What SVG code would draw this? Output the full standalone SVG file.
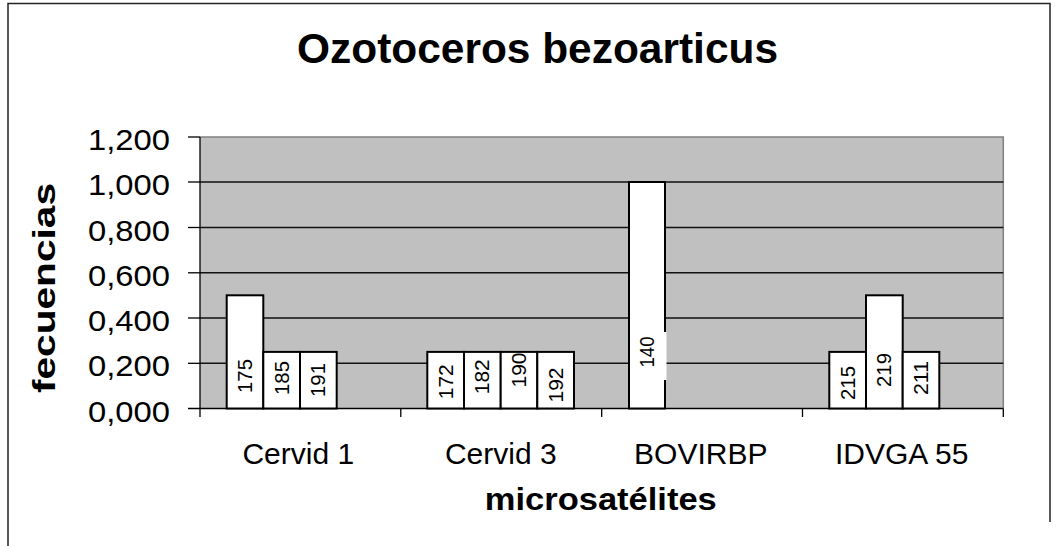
<svg xmlns="http://www.w3.org/2000/svg" width="1061" height="546" viewBox="0 0 1061 546">
  <style>
    .frame { fill: none; stroke: #222; stroke-width: 1.5; }
    .plot { fill: #c0c0c0; }
    .plotedge { fill: none; stroke: #808080; stroke-width: 1.5; }
    .grid { stroke: #111; stroke-width: 1.5; }
    .axis { stroke: #000; stroke-width: 1.3; fill: none; }
    .bar { fill: #fff; stroke: #000; stroke-width: 2; }
    .lblbg { fill: #fff; }
    .lbl { font-family: "Liberation Sans", Arial, sans-serif; font-size: 19.5px; fill: #000; text-anchor: middle; }
    .tick { font-family: "Liberation Sans", Arial, sans-serif; font-size: 30px; fill: #000; }
    .ylab { text-anchor: end; }
    .cat { text-anchor: middle; }
    .title { font-family: "Liberation Sans", Arial, sans-serif; font-size: 42px; font-weight: bold; fill: #000; text-anchor: middle; }
    .axtitle { font-family: "Liberation Sans", Arial, sans-serif; font-size: 32px; font-weight: bold; fill: #000; text-anchor: middle; }
  </style>

  <!-- chart frame -->
  <rect x="0" y="0" width="1061" height="546" fill="#fff"/>
  <polyline class="frame" points="8,546 8,3.5 1050,3.5 1050,522"/>

  <text class="title" x="537.5" y="62.5" textLength="481" lengthAdjust="spacingAndGlyphs">Ozotoceros bezoarticus</text>

  <!-- plot area -->
  <g id="plot-area">
    <rect class="plot" x="200" y="137" width="803.3" height="271.5"/>
    <polyline class="plotedge" points="200,137 1003.3,137 1003.3,408.5"/>
    <g id="gridlines">
      <line class="grid" x1="200" y1="182" x2="1003.3" y2="182"/>
      <line class="grid" x1="200" y1="227.5" x2="1003.3" y2="227.5"/>
      <line class="grid" x1="200" y1="272.8" x2="1003.3" y2="272.8"/>
      <line class="grid" x1="200" y1="318" x2="1003.3" y2="318"/>
      <line class="grid" x1="200" y1="363.3" x2="1003.3" y2="363.3"/>
    </g>
  </g>

  <!-- axes -->
  <g id="axes">
    <line class="axis" x1="200" y1="137" x2="200" y2="417"/>
    <line class="axis" x1="188" y1="408.5" x2="1003.3" y2="408.5"/>
    <line class="axis" x1="188" y1="137" x2="200" y2="137"/>
    <line class="axis" x1="188" y1="182" x2="200" y2="182"/>
    <line class="axis" x1="188" y1="227.5" x2="200" y2="227.5"/>
    <line class="axis" x1="188" y1="272.8" x2="200" y2="272.8"/>
    <line class="axis" x1="188" y1="318" x2="200" y2="318"/>
    <line class="axis" x1="188" y1="363.3" x2="200" y2="363.3"/>
    <line class="axis" x1="400.8" y1="408.5" x2="400.8" y2="417"/>
    <line class="axis" x1="601.7" y1="408.5" x2="601.7" y2="417"/>
    <line class="axis" x1="802.5" y1="408.5" x2="802.5" y2="417"/>
    <line class="axis" x1="1003.3" y1="408.5" x2="1003.3" y2="417"/>
  </g>

  <!-- value axis labels -->
  <g id="y-labels">
    <text class="tick ylab" x="170" y="150" textLength="82" lengthAdjust="spacingAndGlyphs">1,200</text>
    <text class="tick ylab" x="170" y="195" textLength="82" lengthAdjust="spacingAndGlyphs">1,000</text>
    <text class="tick ylab" x="170" y="240.5" textLength="82" lengthAdjust="spacingAndGlyphs">0,800</text>
    <text class="tick ylab" x="170" y="285.8" textLength="82" lengthAdjust="spacingAndGlyphs">0,600</text>
    <text class="tick ylab" x="170" y="331" textLength="82" lengthAdjust="spacingAndGlyphs">0,400</text>
    <text class="tick ylab" x="170" y="376.3" textLength="82" lengthAdjust="spacingAndGlyphs">0,200</text>
    <text class="tick ylab" x="170" y="421.5" textLength="82" lengthAdjust="spacingAndGlyphs">0,000</text>
  </g>

  <!-- category labels -->
  <g id="x-labels">
    <text class="tick cat" x="298.3" y="464">Cervid 1</text>
    <text class="tick cat" x="500.8" y="464">Cervid 3</text>
    <text class="tick cat" x="700.8" y="464">BOVIRBP</text>
    <text class="tick cat" x="901.7" y="464">IDVGA 55</text>
  </g>

  <text class="axtitle" x="600.8" y="510" textLength="232" lengthAdjust="spacingAndGlyphs">microsatélites</text>
  <text class="axtitle" transform="translate(55,288) rotate(-90)" x="0" y="0" textLength="210" lengthAdjust="spacingAndGlyphs">fecuencias</text>

  <!-- Cervid 1 -->
  <g id="cervid1">
    <rect class="bar" x="226.7" y="295.3" width="36.6" height="113.2"/>
    <rect class="bar" x="263.3" y="351.9" width="36.7" height="56.6"/>
    <rect class="bar" x="300" y="351.9" width="36.7" height="56.6"/>
    <text class="lbl" transform="translate(252,376) rotate(-90)" textLength="34" lengthAdjust="spacingAndGlyphs">175</text>
    <text class="lbl" transform="translate(288.6,378) rotate(-90)" textLength="34" lengthAdjust="spacingAndGlyphs">185</text>
    <text class="lbl" transform="translate(325.3,380) rotate(-90)" textLength="34" lengthAdjust="spacingAndGlyphs">191</text>
  </g>

  <!-- Cervid 3 -->
  <g id="cervid3">
    <rect class="bar" x="427.3" y="351.9" width="36.7" height="56.6"/>
    <rect class="bar" x="464" y="351.9" width="36.7" height="56.6"/>
    <rect class="bar" x="500.7" y="351.9" width="36.6" height="56.6"/>
    <rect class="bar" x="537.3" y="351.9" width="36.7" height="56.6"/>
    <text class="lbl" transform="translate(452.6,381.7) rotate(-90)" textLength="35" lengthAdjust="spacingAndGlyphs">172</text>
    <text class="lbl" transform="translate(489.3,376.7) rotate(-90)" textLength="35" lengthAdjust="spacingAndGlyphs">182</text>
    <text class="lbl" transform="translate(526,370) rotate(-90)" textLength="35" lengthAdjust="spacingAndGlyphs">190</text>
    <text class="lbl" transform="translate(562.6,385) rotate(-90)" textLength="35" lengthAdjust="spacingAndGlyphs">192</text>
  </g>

  <!-- BOVIRBP -->
  <g id="bovirbp">
    <rect class="bar" x="629" y="182" width="36" height="226.5"/>
    <rect class="lblbg" x="635" y="332" width="31.5" height="48"/>
    <text class="lbl" transform="translate(654.3,352) rotate(-90)" textLength="31" lengthAdjust="spacingAndGlyphs">140</text>
  </g>

  <!-- IDVGA 55 -->
  <g id="idvga55">
    <rect class="bar" x="829.3" y="351.9" width="36.7" height="56.6"/>
    <rect class="bar" x="866" y="295.3" width="36.7" height="113.2"/>
    <rect class="bar" x="902.7" y="351.9" width="36.6" height="56.6"/>
    <text class="lbl" transform="translate(854.6,383) rotate(-90)" textLength="34" lengthAdjust="spacingAndGlyphs">215</text>
    <text class="lbl" transform="translate(891.3,370) rotate(-90)" textLength="34" lengthAdjust="spacingAndGlyphs">219</text>
    <text class="lbl" transform="translate(928,378) rotate(-90)" textLength="34" lengthAdjust="spacingAndGlyphs">211</text>
  </g>
</svg>
